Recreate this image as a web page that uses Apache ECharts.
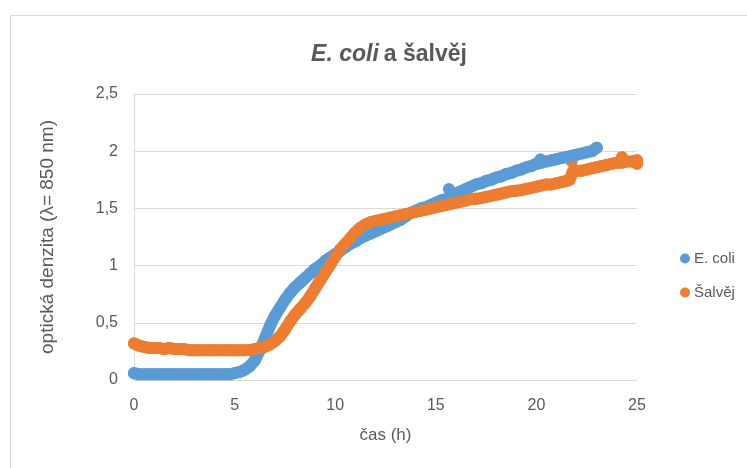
<!DOCTYPE html>
<html>
<head>
<meta charset="utf-8">
<script src="https://cdn.jsdelivr.net/npm/echarts@6/dist/echarts.min.js"></script>
<style>
  html, body { margin: 0; padding: 0; background: #fff; }
  #chart { width: 747px; height: 468px; }
</style>
</head>
<body>
<div id="chart"></div>
<script>
// time (h) and optical density readings
const ecoliTime = [0, 0.25, 0.5, 0.75, 1, 1.25, 1.5, 1.75, 2, 2.25, 2.5, 2.75, 3, 3.25, 3.5, 3.75, 4, 4.25, 4.5, 4.75,
  5, 5.25, 5.5, 5.75, 6, 6.25, 6.5, 6.75, 7, 7.25, 7.5, 7.75, 8, 8.25, 8.5, 8.75, 9, 9.25, 9.5, 9.75,
  10, 10.25, 10.5, 10.75, 11, 11.25, 11.5, 11.75, 12, 12.25, 12.5, 12.75, 13, 13.25, 13.5, 13.75, 14, 14.25, 14.5, 14.75,
  15, 15.25, 15.5, 15.75, 16, 16.25, 16.5, 16.75, 17, 17.25, 17.5, 17.75, 18, 18.25, 18.5, 18.75, 19, 19.25, 19.5, 19.75,
  20, 20.25, 20.5, 20.75, 21, 21.25, 21.5, 21.75, 22, 22.25, 22.5, 22.75, 23];
const ecoliOD = [0.06, 0.05, 0.05, 0.05, 0.05, 0.05, 0.05, 0.05, 0.05, 0.05, 0.05, 0.05, 0.05, 0.05, 0.05, 0.05, 0.05, 0.05, 0.05, 0.05,
  0.06, 0.07, 0.09, 0.12, 0.17, 0.26, 0.36, 0.47, 0.56, 0.63, 0.7, 0.76, 0.81, 0.85, 0.89, 0.93, 0.97, 1.0, 1.04, 1.07,
  1.1, 1.13, 1.16, 1.19, 1.21, 1.24, 1.26, 1.28, 1.3, 1.32, 1.34, 1.36, 1.38, 1.4, 1.43, 1.46, 1.48, 1.5, 1.51, 1.53,
  1.55, 1.57, 1.58, 1.6, 1.63, 1.65, 1.67, 1.69, 1.71, 1.72, 1.74, 1.75, 1.77, 1.78, 1.8, 1.81, 1.83, 1.84, 1.86, 1.87,
  1.89, 1.9, 1.91, 1.92, 1.93, 1.94, 1.95, 1.96, 1.97, 1.98, 1.99, 2.0, 2.03];
// single outlying readings sitting above the curve
const ecoliSpikeTime = [15.65, 20.2];
const ecoliSpikeOD = [1.67, 1.93];

const salvejTime = [0, 0.25, 0.5, 0.75, 1, 1.25, 1.5, 1.75, 2, 2.25, 2.5, 2.75, 3, 3.25, 3.5, 3.75, 4, 4.25, 4.5, 4.75,
  5, 5.25, 5.5, 5.75, 6, 6.25, 6.5, 6.75, 7, 7.25, 7.5, 7.75, 8, 8.25, 8.5, 8.75, 9, 9.25, 9.5, 9.75,
  10, 10.25, 10.5, 10.75, 11, 11.25, 11.5, 11.75, 12, 12.25, 12.5, 12.75, 13, 13.25, 13.5, 13.75, 14, 14.25, 14.5, 14.75,
  15, 15.25, 15.5, 15.75, 16, 16.25, 16.5, 16.75, 17, 17.25, 17.5, 17.75, 18, 18.25, 18.5, 18.75, 19, 19.25, 19.5, 19.75,
  20, 20.25, 20.5, 20.75, 21, 21.25, 21.5, 21.65, 21.8, 22, 22.25, 22.5, 22.75, 23, 23.25, 23.5, 23.75, 24, 24.25, 24.5, 24.75, 25, 25];
const salvejOD = [0.32, 0.3, 0.29, 0.28, 0.28, 0.28, 0.27, 0.28, 0.27, 0.27, 0.27, 0.26, 0.26, 0.26, 0.26, 0.26, 0.26, 0.26, 0.26, 0.26,
  0.26, 0.26, 0.26, 0.26, 0.27, 0.28, 0.29, 0.31, 0.34, 0.38, 0.44, 0.51, 0.57, 0.62, 0.67, 0.73, 0.8, 0.87, 0.94, 1.01,
  1.08, 1.14, 1.19, 1.24, 1.29, 1.33, 1.36, 1.38, 1.39, 1.4, 1.41, 1.42, 1.43, 1.44, 1.45, 1.46, 1.47, 1.48, 1.49, 1.5,
  1.51, 1.52, 1.53, 1.54, 1.55, 1.56, 1.57, 1.58, 1.585, 1.59, 1.6, 1.61, 1.62, 1.63, 1.64, 1.65, 1.655, 1.66, 1.67, 1.68,
  1.69, 1.7, 1.71, 1.71, 1.72, 1.73, 1.74, 1.75, 1.82, 1.83, 1.83, 1.84, 1.85, 1.86, 1.87, 1.88, 1.89, 1.9, 1.9, 1.91, 1.91, 1.92, 1.89];
const salvejSpikeTime = [21.75, 24.25];
const salvejSpikeOD = [1.91, 1.95];

const xTicks = [0, 5, 10, 15, 20, 25];
const yTicks = [0, 0.5, 1, 1.5, 2, 2.5];

const font = "'Liberation Sans', Arial, sans-serif";
const textColor = '#595959';
const gridColor = '#d9d9d9';
const blue = '#5B9BD5';
const orange = '#ED7D31';

function pairs(xs, ys) {
  return xs.map((x, i) => [x, ys[i]]);
}
function comma(v) {
  return String(v).replace('.', ',');
}
function band(name, color, xs, ys) {
  return {
    name: name,
    type: 'line',
    symbol: 'circle',
    symbolSize: 12,
    showSymbol: true,
    lineStyle: { color: color, width: 12, cap: 'round', join: 'round' },
    itemStyle: { color: color },
    data: pairs(xs, ys)
  };
}
function spikes(name, color, xs, ys) {
  return {
    name: name,
    type: 'scatter',
    symbolSize: 12,
    itemStyle: { color: color, opacity: 1 },
    data: pairs(xs, ys)
  };
}

const chart = echarts.init(document.getElementById('chart'));
chart.setOption({
  animation: false,
  textStyle: { fontFamily: font },
  title: {
    text: '{i|E. coli} {n|a šalvěj}',
    left: 384,
    textAlign: 'center',
    top: 38,
    textStyle: {
      rich: {
        i: { fontStyle: 'italic', fontWeight: 'bold', fontSize: 23, color: textColor, fontFamily: font },
        n: { fontWeight: 'bold', fontSize: 23, color: textColor, fontFamily: font }
      }
    }
  },
  graphic: [{
    type: 'rect',
    shape: { x: 10.5, y: 15.5, width: 760, height: 470 },
    style: { fill: 'none', stroke: gridColor, lineWidth: 1 },
    silent: true
  }],
  legend: {
    orient: 'vertical',
    left: 675,
    top: 246,
    itemGap: 19,
    itemWidth: 10,
    itemHeight: 10,
    icon: 'circle',
    data: ['E. coli', 'Šalvěj'],
    textStyle: { color: textColor, fontSize: 15, fontFamily: font, padding: [0, 0, 0, -1] }
  },
  grid: { left: 134, right: 110, top: 94, bottom: 88 },
  xAxis: {
    type: 'value',
    min: 0,
    max: 25,
    interval: 5,
    name: 'čas (h)',
    nameLocation: 'middle',
    nameGap: 47,
    nameTextStyle: { color: textColor, fontSize: 17, fontFamily: font },
    axisLine: { show: true, onZero: false, lineStyle: { color: gridColor } },
    axisTick: { show: false },
    splitLine: { show: false },
    axisLabel: {
      color: textColor, fontSize: 16, margin: 18,
      customValues: xTicks,
      formatter: v => comma(v)
    }
  },
  yAxis: {
    type: 'value',
    min: 0,
    max: 2.5,
    interval: 0.5,
    name: 'optická denzita (λ= 850 nm)',
    nameLocation: 'middle',
    nameGap: 77,
    nameTextStyle: { color: textColor, fontSize: 19, fontFamily: font },
    axisLine: { show: true, lineStyle: { color: gridColor } },
    axisTick: { show: false },
    splitLine: { show: true, lineStyle: { color: gridColor } },
    axisLabel: {
      color: textColor, fontSize: 16, margin: 16,
      customValues: yTicks,
      formatter: v => comma(v)
    }
  },
  series: [
    band('E. coli', blue, ecoliTime, ecoliOD),
    band('Šalvěj', orange, salvejTime, salvejOD),
    spikes('E. coli', blue, ecoliSpikeTime, ecoliSpikeOD),
    spikes('Šalvěj', orange, salvejSpikeTime, salvejSpikeOD)
  ]
});
</script>
</body>
</html>
